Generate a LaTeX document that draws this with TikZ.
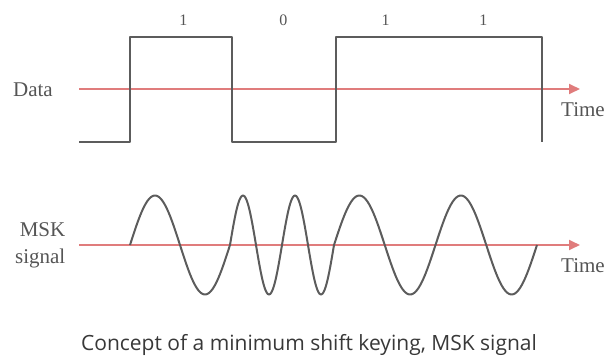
\documentclass[tikz,border=0pt]{standalone}
\usepackage{fontspec}
\setmainfont{Liberation Serif}
\newfontfamily\capfont{Open Sans}
\usetikzlibrary{arrows.meta}
\definecolor{sigcol}{HTML}{5C5C5C}
\definecolor{axisred}{HTML}{E07C7C}
\definecolor{txtcol}{HTML}{555555}
\begin{document}
\begin{tikzpicture}[x=1pt,y=-1pt,
  signal/.style={draw=sigcol, line width=2pt, line join=round},
  timeaxis/.style={draw=axisred, line width=1.8pt, -{Triangle[length=11pt,width=10pt]}},
  lbl/.style={text=txtcol, font=\fontsize{21}{26}\selectfont, inner sep=0pt},
  bitlbl/.style={text=txtcol, font=\fontsize{16}{19}\selectfont, inner sep=0pt, anchor=base},
  captext/.style={text=black!78, font=\capfont\fontsize{21}{25}\selectfont, inner sep=0pt, anchor=base}]
\useasboundingbox (0,0) rectangle (606,362);

% axes
\coordinate (dA) at (79,89);
\coordinate (dB) at (580,89);
\coordinate (mA) at (79,245);
\coordinate (mB) at (580,245);
\draw[timeaxis] (dA) -- (dB);
\draw[timeaxis] (mA) -- (mB);

% data square wave
\coordinate (s0) at (79,142);
\coordinate (s1) at (130,142);
\coordinate (s2) at (130,37);
\coordinate (s3) at (232,37);
\coordinate (s4) at (232,142);
\coordinate (s5) at (336,142);
\coordinate (s6) at (336,37);
\coordinate (s7) at (542,37);
\coordinate (s8) at (542,142);
\draw[signal] (s0) -- (s1) -- (s2) -- (s3) -- (s4) -- (s5) -- (s6) -- (s7) -- (s8);

% MSK waveform
\draw[signal] plot[domain=130:230, samples=80, smooth] (\x,{245-49.5*sin((\x-130)*3.6)})
  -- plot[domain=230:334, samples=100, smooth] (\x,{245-49.5*sin((\x-230)*6.9231)})
  -- plot[domain=334:537, samples=140, smooth] (\x,{245-49.5*sin((\x-334)*3.5468)});

% labels
\node[lbl, anchor=base east] (data) at (53,96.7) {Data};
\node[lbl, anchor=base east] (msk) at (65.5,236.7) {MSK};
\node[lbl, anchor=base east] (sigw) at (65.5,263) {signal};
\node[lbl, anchor=base west] (time1) at (561,116) {Time};
\node[lbl, anchor=base west] (time2) at (561,272) {Time};

\node[bitlbl] (b1) at (183.3,25) {1};
\node[bitlbl] (b2) at (283.3,25) {0};
\node[bitlbl] (b3) at (385.7,25) {1};
\node[bitlbl] (b4) at (483.3,25) {1};

\node[captext] (cap) at (309,350) {Concept of a minimum shift keying, MSK signal};
\end{tikzpicture}
\end{document}
